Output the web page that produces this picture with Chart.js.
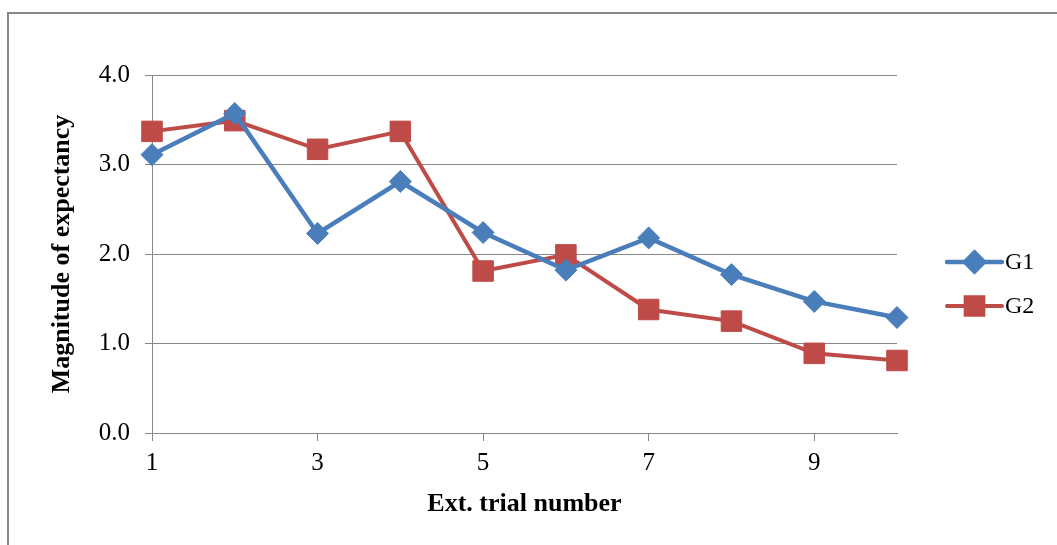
<!DOCTYPE html>
<html>
<head>
<meta charset="utf-8">
<title>Magnitude of expectancy</title>
<script src="https://cdn.jsdelivr.net/npm/chart.js@4.4.0/dist/chart.umd.min.js"></script>
<style>
    html, body { margin: 0; padding: 0; background: #fff; overflow: hidden; }
    #wrap { position: relative; width: 1057px; height: 545px; }
    #frame {
        position: absolute; left: 7px; top: 12px;
        width: 1100px; height: 600px;
        border: 2px solid #868686;
    }
    canvas { position: absolute; left: 0; top: 0; }
</style>
</head>
<body>
<div id="wrap">
    <div id="frame"></div>
    <canvas id="chart" width="1057" height="545"></canvas>
</div>
<script>
// Data
const trials = [1, 2, 3, 4, 5, 6, 7, 8, 9, 10];
const g1Values = [3.11, 3.57, 2.23, 2.81, 2.24, 1.82, 2.18, 1.77, 1.47, 1.29];
const g2Values = [3.37, 3.49, 3.17, 3.37, 1.81, 1.99, 1.38, 1.25, 0.89, 0.81];
const xTickValues = [1, 3, 5, 7, 9];
const seriesNames = ['G1', 'G2'];

const BLUE = '#4a7ebb';
const RED = '#be4b48';
const GRID = '#878787';
const FONT = "'Liberation Serif', 'Times New Roman', serif";

// Excel style legend: short line with the marker in the middle
const legendPlugin = {
    id: 'excelLegend',
    afterDraw(chart) {
        const ctx = chart.ctx;
        const x0 = 947, x1 = 1002;
        const rows = [262, 306];
        chart.data.datasets.forEach((ds, i) => {
            const y = rows[i];
            ctx.save();
            ctx.strokeStyle = ds.borderColor;
            ctx.lineWidth = ds.borderWidth;
            ctx.lineCap = 'round';
            ctx.beginPath();
            ctx.moveTo(x0, y);
            ctx.lineTo(x1, y);
            ctx.stroke();
            Chart.helpers.drawPoint(ctx, {
                pointStyle: ds.pointStyle,
                radius: ds.pointStyle === 'rect' ? 12.5 : 9.5,
                rotation: 0,
                borderWidth: 1
            }, (x0 + x1) / 2, y);
            ctx.fillStyle = ds.backgroundColor;
            ctx.fill();
            ctx.fillStyle = '#000';
            ctx.font = '24px ' + FONT;
            ctx.textBaseline = 'middle';
            ctx.textAlign = 'left';
            ctx.fillText(ds.label, 1005, y + 1);
            ctx.restore();
        });
    }
};

const ctx = document.getElementById('chart').getContext('2d');
new Chart(ctx, {
    type: 'line',
    data: {
        datasets: [{
            label: seriesNames[0],
            data: trials.map((t, i) => ({ x: t, y: g1Values[i] })),
            borderColor: BLUE,
            backgroundColor: BLUE,
            borderWidth: 4.5,
            pointStyle: 'rectRot',
            pointRadius: 11,
            pointBorderWidth: 1,
            clip: false,
            tension: 0
        }, {
            label: seriesNames[1],
            data: trials.map((t, i) => ({ x: t, y: g2Values[i] })),
            borderColor: RED,
            backgroundColor: RED,
            borderWidth: 4,
            pointStyle: 'rect',
            pointRadius: 14.5,
            pointBorderWidth: 1,
            clip: false,
            tension: 0
        }]
    },
    options: {
        responsive: false,
        animation: false,
        events: [],
        layout: {
            padding: { left: 20, right: 160, top: 75, bottom: 0 }
        },
        plugins: {
            legend: { display: false },
            tooltip: { enabled: false }
        },
        scales: {
            x: {
                type: 'linear',
                min: 1,
                max: 10,
                afterBuildTicks: (axis) => {
                    axis.ticks = xTickValues.map(v => ({ value: v }));
                },
                afterFit: (axis) => { axis.height = 112; },
                grid: {
                    drawOnChartArea: false,
                    color: GRID,
                    tickLength: 8
                },
                border: { display: true, color: GRID, width: 1 },
                ticks: {
                    autoSkip: false,
                    maxRotation: 0,
                    padding: 7,
                    color: '#000',
                    font: { family: FONT, size: 25 }
                },
                title: {
                    display: true,
                    text: 'Ext. trial number',
                    color: '#000',
                    font: { family: FONT, size: 26, weight: 'bold' },
                    padding: { top: 0, bottom: 25 }
                }
            },
            y: {
                min: 0,
                max: 4,
                afterFit: (axis) => { axis.width = 132; },
                grid: {
                    color: GRID,
                    tickLength: 7
                },
                border: { display: true, color: GRID, width: 1 },
                ticks: {
                    stepSize: 1,
                    padding: 15,
                    color: '#000',
                    font: { family: FONT, size: 25 },
                    callback: (v) => v.toFixed(1)
                },
                title: {
                    display: true,
                    text: 'Magnitude of expectancy',
                    color: '#000',
                    font: { family: FONT, size: 26, weight: 'bold' },
                    padding: { top: 27, bottom: 0 }
                }
            }
        }
    },
    plugins: [legendPlugin]
});
</script>
</body>
</html>
